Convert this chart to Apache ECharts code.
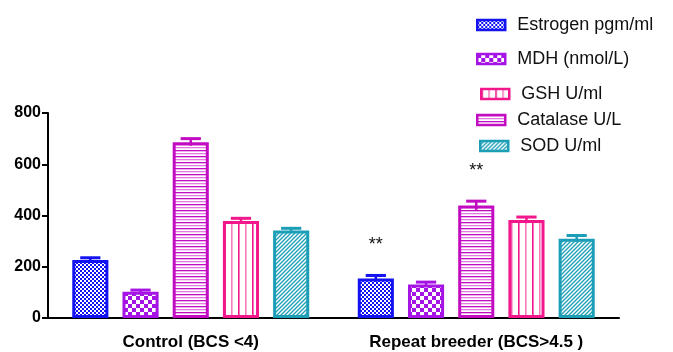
<!DOCTYPE html>
<html>
<head>
<meta charset="utf-8">
<script src="https://cdn.jsdelivr.net/npm/echarts@6/dist/echarts.min.js"></script>
<style>
  html, body { margin: 0; padding: 0; background: #fff; }
  #chart { width: 673px; height: 352px; }
</style>
</head>
<body>
<div id="chart"></div>
<script>
// Groups on the x axis
const categories = ['Control (BCS <4)', 'Repeat breeder (BCS>4.5 )'];

// Means and error (SE) per marker, one value per group
const estrogen = [226, 154];
const estrogenErr = [9, 12];
const mdh = [102, 131];
const mdhErr = [7, 9];
const catalase = [686, 439];
const catalaseErr = [14, 17];
const gsh = [379, 382];
const gshErr = [10, 12];
const sod = [341, 309];
const sodErr = [9, 13];

// Significance marks drawn above the bars
const estrogenSig = ['', '**'];
const catalaseSig = ['', '**'];

// Y axis ticks
const yTicks = [0, 200, 400, 600, 800];

const FONT = '"Liberation Sans", Arial, sans-serif';

// ---- fill patterns ----
function tile(w, h, draw) {
  const c = document.createElement('canvas');
  c.width = w; c.height = h;
  const g = c.getContext('2d');
  g.fillStyle = '#fff';
  g.fillRect(0, 0, w, h);
  draw(g);
  return c;
}
const BLUE = '#1212f2', PURPLE = '#a514e4', MAGENTA = '#c20cc2', PINK = '#f2188c', TEAL = '#1b9eb6';

const patEstrogen = tile(4, 4, g => {
  g.fillStyle = BLUE;
  g.fillRect(0, 0, 4, 4);
  g.fillStyle = '#fff';
  g.fillRect(0, 0, 2, 2);
  g.fillRect(2, 2, 2, 2);
});
const patMdh = tile(8, 8, g => {
  g.fillStyle = PURPLE;
  g.fillRect(0, 0, 4, 4);
  g.fillRect(4, 4, 4, 4);
});
const patCatalase = tile(6, 6, g => {
  g.fillStyle = MAGENTA;
  g.fillRect(0, 0, 6, 1.3);
  g.fillStyle = '#e27be2';
  g.fillRect(0, 3, 6, 1.3);
});
const patGsh = tile(14, 6, g => {
  g.fillStyle = PINK;
  g.fillRect(0, 0, 1.6, 6);
  g.fillStyle = '#f77cbc';
  g.fillRect(7, 0, 1.6, 6);
});
const patSod = tile(4, 4, g => {
  g.strokeStyle = TEAL;
  g.lineWidth = 1.3;
  g.beginPath();
  g.moveTo(-1, 5); g.lineTo(5, -1);
  g.moveTo(-1, 1); g.lineTo(1, -1);
  g.moveTo(3, 5); g.lineTo(5, 3);
  g.stroke();
});

// Bar layout shared by bars and error bars
const CAT_GAP = 0.17;
const BAR_GAP = 0.39;
const N_BARS = 5;

const barDefs = [
  { name: 'Estrogen pgm/ml', data: estrogen, err: estrogenErr, sig: estrogenSig, color: BLUE, pat: patEstrogen },
  { name: 'MDH (nmol/L)', data: mdh, err: mdhErr, sig: null, color: PURPLE, pat: patMdh },
  { name: 'Catalase U/L', data: catalase, err: catalaseErr, sig: catalaseSig, color: MAGENTA, pat: patCatalase },
  { name: 'GSH U/ml', data: gsh, err: gshErr, sig: null, color: PINK, pat: patGsh },
  { name: 'SOD U/ml', data: sod, err: sodErr, sig: null, color: TEAL, pat: patSod }
];

const series = [];
barDefs.forEach(d => {
  series.push({
    name: d.name,
    type: 'bar',
    data: d.data,
    barGap: (BAR_GAP * 100) + '%',
    barCategoryGap: (CAT_GAP * 100) + '%',
    itemStyle: {
      color: { image: d.pat, repeat: 'repeat' },
      borderColor: d.color,
      borderWidth: 3
    },
    emphasis: { disabled: true },
    z: 2
  });
});

// Error bars (mean ± err) and significance stars, one custom series per marker
barDefs.forEach((d, k) => {
  series.push({
    type: 'custom',
    name: d.name + ' err',
    clip: false,
    z: 3,
    data: d.data.map((v, i) => [i, v, d.err[i]]),
    renderItem: function (params, api) {
      const ci = api.value(0), v = api.value(1), e = api.value(2);
      const sig = d.sig ? d.sig[params.dataIndex] : '';
      const band = api.size([1, 0])[0];
      const total = band * (1 - CAT_GAP);
      const bw = total / (N_BARS + (N_BARS - 1) * BAR_GAP);
      const center = api.coord([ci, 0])[0];
      const x = center - total / 2 + k * bw * (1 + BAR_GAP) + bw / 2;
      const yLow = api.coord([ci, v - e])[1];
      const yTop = api.coord([ci, v + e])[1];
      const half = bw * 0.28;
      const style = { stroke: d.color, lineWidth: 3 };
      const children = [
        { type: 'line', shape: { x1: x, y1: yLow, x2: x, y2: yTop }, style: { stroke: d.color, lineWidth: 2.5 } },
        { type: 'line', shape: { x1: x - half, y1: yTop, x2: x + half, y2: yTop }, style: style }
      ];
      if (sig) {
        children.push({
          type: 'text',
          style: {
            text: sig, x: x, y: yTop - 30,
            align: 'center', verticalAlign: 'middle',
            font: '18px ' + FONT, fill: '#111'
          }
        });
      }
      return { type: 'group', children: children };
    }
  });
});

// Legend entries placed individually down the top right
const legendPlaces = [
  { name: 'Estrogen pgm/ml', left: 476, top: 16 },
  { name: 'MDH (nmol/L)', left: 476, top: 50 },
  { name: 'GSH U/ml', left: 480, top: 85 },
  { name: 'Catalase U/L', left: 476, top: 111 },
  { name: 'SOD U/ml', left: 479, top: 137 }
];
const legends = legendPlaces.map(p => ({
  data: [p.name],
  left: p.left,
  top: p.top,
  padding: 0,
  itemWidth: 28,
  itemHeight: 10,
  selectedMode: false,
  icon: 'rect',
  itemStyle: { borderWidth: 2.5 },
  textStyle: { fontFamily: FONT, fontSize: 18, color: '#111', padding: [0, 0, 0, 7] }
}));

const chart = echarts.init(document.getElementById('chart'), null, { renderer: 'canvas' });
chart.setOption({
  backgroundColor: '#fff',
  animation: false,
  legend: legends,
  grid: { left: 48, right: 54, top: 113, bottom: 34, containLabel: false },
  xAxis: {
    type: 'category',
    data: categories,
    axisLine: { lineStyle: { color: '#000', width: 2 } },
    axisTick: { show: true, alignWithLabel: true, inside: true, length: 7, lineStyle: { color: '#000', width: 2 } },
    axisLabel: { fontFamily: FONT, fontWeight: 'bold', fontSize: 17, color: '#000', margin: 16 }
  },
  yAxis: {
    type: 'value',
    min: yTicks[0],
    max: yTicks[yTicks.length - 1],
    interval: yTicks[1] - yTicks[0],
    axisLine: { show: true, lineStyle: { color: '#000', width: 2 } },
    axisTick: { show: true, length: 6, lineStyle: { color: '#000', width: 2 } },
    splitLine: { show: false },
    axisLabel: { fontFamily: FONT, fontWeight: 'bold', fontSize: 16, color: '#000', margin: 7 }
  },
  series: series
});
</script>
</body>
</html>
